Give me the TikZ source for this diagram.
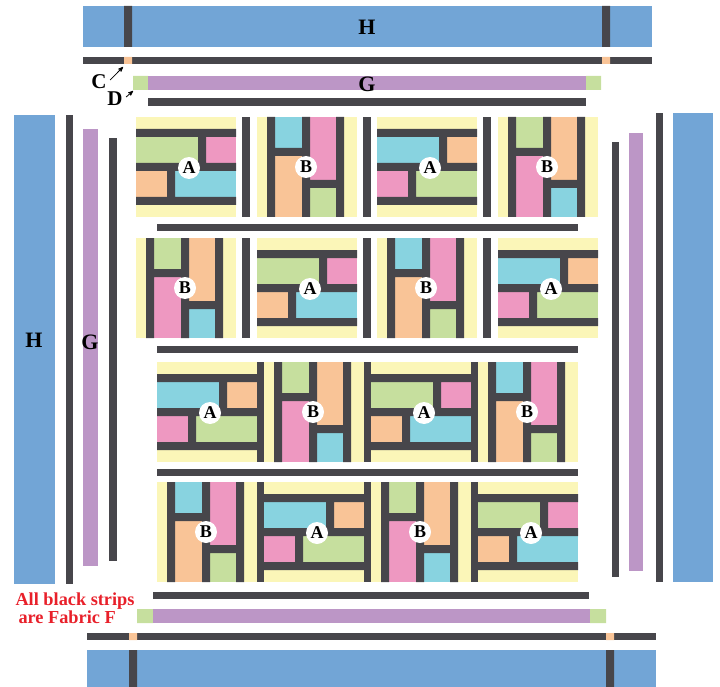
\documentclass[tikz,border=0pt]{standalone}
\usepackage{fontspec}
\setmainfont{Liberation Serif}
\usetikzlibrary{arrows}
\usetikzlibrary{positioning}

\definecolor{fabH}{RGB}{114,165,214}
\definecolor{fabF}{RGB}{71,70,75}
\definecolor{fabG}{RGB}{188,150,198}
\definecolor{fabGr}{RGB}{198,223,158}
\definecolor{fabOr}{RGB}{249,196,151}
\definecolor{fabPk}{RGB}{238,152,193}
\definecolor{fabCy}{RGB}{136,211,224}
\definecolor{fabYe}{RGB}{251,246,184}
\definecolor{noteRed}{RGB}{232,32,42}

% block A: logs lying flat
\newcommand{\blockA}[7]{%
  \begin{scope}[shift={(#1,#2)}]
    \fill[fabYe] (0,0) rectangle (100,100);
    \fill[#4] (0,20) rectangle (62,46);
    \fill[#5] (70,20) rectangle (100,46);
    \fill[#6] (0,54) rectangle (31,80);
    \fill[#7] (39,54) rectangle (100,80);
    \fill[fabF] (0,12) rectangle (100,20) (0,46) rectangle (100,54) (0,80) rectangle (100,88)
      (62,20) rectangle (70,46) (31,54) rectangle (39,80);
    \node[lbl] (#3) at (53,51) {A};
  \end{scope}}

% block B: logs standing up
\newcommand{\blockB}[7]{%
  \begin{scope}[shift={(#1,#2)}]
    \fill[fabYe] (0,0) rectangle (100,100);
    \fill[#4] (18,0) rectangle (45,31);
    \fill[#5] (18,39) rectangle (45,100);
    \fill[#6] (53,0) rectangle (79,63);
    \fill[#7] (53,71) rectangle (79,100);
    \fill[fabF] (10,0) rectangle (18,100) (45,0) rectangle (53,100) (79,0) rectangle (87,100)
      (18,31) rectangle (45,39) (53,63) rectangle (79,71);
    \node[lbl] (#3) at (49,50) {B};
  \end{scope}}

\begin{document}
\begin{tikzpicture}[x=1pt, y=-1pt, >=stealth',
  lbl/.style={circle, fill=white, inner sep=0pt, minimum size=22pt, font=\fontsize{18}{18}\selectfont\bfseries},
  tag/.style={font=\fontsize{22}{22}\selectfont\bfseries}]
  \tikzstyle{strip}=[fill=fabF]
  \useasboundingbox (0,0) rectangle (720,687);

  % top border
  \fill[fabH] (83,6) rectangle (652,47);
  \fill[strip] (124,6) rectangle (132,47) (602,6) rectangle (610,47);
  \fill[strip] (83,57) rectangle (652,64);
  \fill[fabOr] (124,57) rectangle (132,64) (602,57) rectangle (610,64);
  \fill[fabGr] (133,76) rectangle (148,90) (586,76) rectangle (601,90);
  \fill[fabG] (148,76) rectangle (586,90);
  \fill[strip] (148,98) rectangle (586,106);
  \node[tag] (htop) at (367,27) {H};
  \node[tag] (gtop) at (367,84) {G};

  % bottom border
  \fill[strip] (153,592) rectangle (589,599);
  \fill[fabGr] (137,609) rectangle (153,623) (590,609) rectangle (606,623);
  \fill[fabG] (153,609) rectangle (590,623);
  \fill[strip] (87,633) rectangle (656,640);
  \fill[fabOr] (129,633) rectangle (137,640) (606,633) rectangle (614,640);
  \fill[fabH] (87,650) rectangle (656,687);
  \fill[strip] (129,650) rectangle (137,687) (606,650) rectangle (614,687);

  % left border
  \fill[fabH] (14,115) rectangle (55,584);
  \fill[strip] (66,115) rectangle (73,584);
  \fill[fabG] (83,129) rectangle (98,566);
  \fill[strip] (109,138) rectangle (117,561);
  \node[tag] (hleft) at (34,340) {H};
  \node[tag] (gleft) at (90,342) {G};

  % right border
  \fill[strip] (612,142) rectangle (619,577);
  \fill[fabG] (629,133) rectangle (643,571);
  \fill[strip] (656,113) rectangle (663,582);
  \fill[fabH] (673,113) rectangle (713,582);

  % sashing
  \foreach \x in {242,363,483} {
    \fill[strip] (\x,117) rectangle ++(8,100);
    \fill[strip] (\x,238) rectangle ++(8,100);
  }
  \foreach \x in {257,364,471} {
    \fill[strip] (\x,362) rectangle ++(7,100);
    \fill[strip] (\x,482) rectangle ++(7,100);
  }
  \foreach \y in {224,346,469}
    \fill[strip] (157,\y) rectangle ++(421,7);

  % blocks
  \blockA{136}{117}{a11}{fabGr}{fabPk}{fabOr}{fabCy}
  \blockB{257}{117}{b12}{fabCy}{fabOr}{fabPk}{fabGr}
  \blockA{377}{117}{a13}{fabCy}{fabOr}{fabPk}{fabGr}
  \blockB{498}{117}{b14}{fabGr}{fabPk}{fabOr}{fabCy}
  \blockB{136}{238}{b21}{fabGr}{fabPk}{fabOr}{fabCy}
  \blockA{257}{238}{a22}{fabGr}{fabPk}{fabOr}{fabCy}
  \blockB{377}{238}{b23}{fabCy}{fabOr}{fabPk}{fabGr}
  \blockA{498}{238}{a24}{fabCy}{fabOr}{fabPk}{fabGr}
  \blockA{157}{362}{a31}{fabCy}{fabOr}{fabPk}{fabGr}
  \blockB{264}{362}{b32}{fabGr}{fabPk}{fabOr}{fabCy}
  \blockA{371}{362}{a33}{fabGr}{fabPk}{fabOr}{fabCy}
  \blockB{478}{362}{b34}{fabCy}{fabOr}{fabPk}{fabGr}
  \blockB{157}{482}{b41}{fabCy}{fabOr}{fabPk}{fabGr}
  \blockA{264}{482}{a42}{fabCy}{fabOr}{fabPk}{fabGr}
  \blockB{371}{482}{b43}{fabGr}{fabPk}{fabOr}{fabCy}
  \blockA{478}{482}{a44}{fabGr}{fabPk}{fabOr}{fabCy}

  % C and D pointers
  \node[tag, font=\fontsize{21}{21}\selectfont\bfseries] (cpt) at (99,82) {C};
  \node[tag, font=\fontsize{21}{21}\selectfont\bfseries] (dpt) at (115,99) {D};
  \coordinate (cseam) at (123,67);
  \coordinate (dseam) at (133,91);
  \draw[->, thick] (cpt.10) -- (cseam);
  \draw[->, thick] (dpt.10) -- (dseam);

  \node[text=noteRed, align=left, anchor=west, font=\fontsize{18.3}{18}\selectfont\bfseries]
    (note) at (12,608) {All black strips\\\hspace{3pt}are Fabric F};
\end{tikzpicture}
\end{document}
